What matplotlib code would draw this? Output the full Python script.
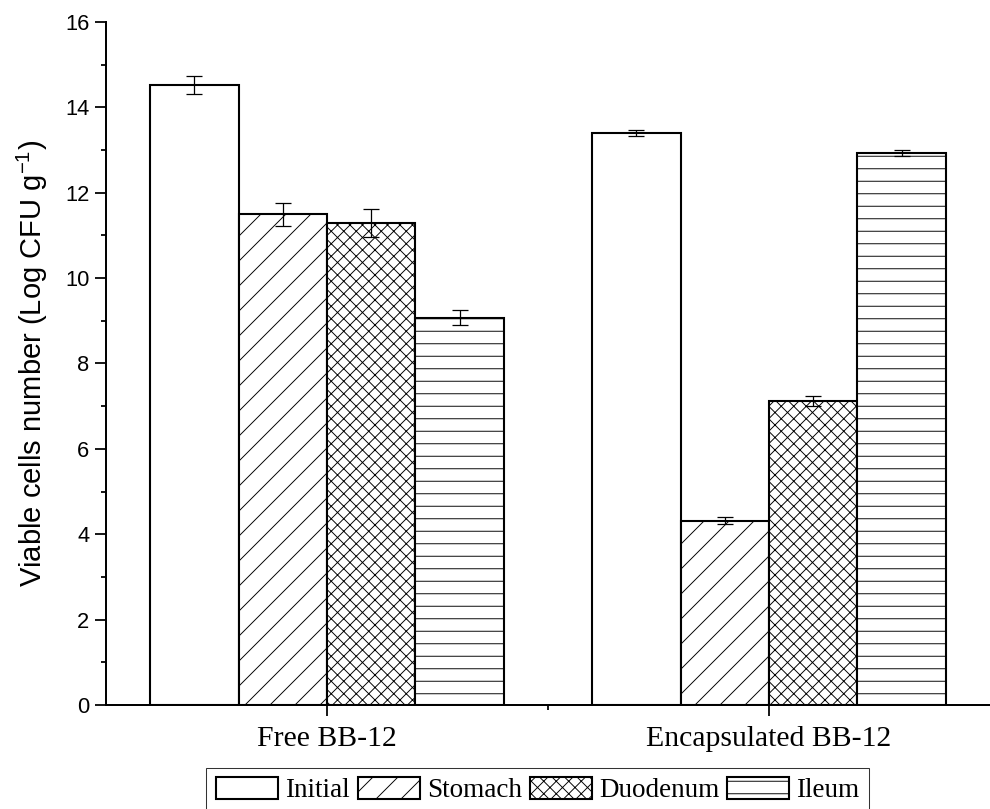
import matplotlib.pyplot as plt
import numpy as np

# data
groups = ['Free BB-12', 'Encapsulated BB-12']
stages = ['Initial', 'Stomach', 'Duodenum', 'Ileum']
initial = [14.52, 13.41]
stomach = [11.50, 4.32]
duodenum = [11.30, 7.12]
ileum = [9.07, 12.92]
initial_err = [0.21, 0.07]
stomach_err = [0.27, 0.08]
duodenum_err = [0.33, 0.12]
ileum_err = [0.18, 0.07]

values = [initial, stomach, duodenum, ileum]
errors = [initial_err, stomach_err, duodenum_err, ileum_err]
hatches = ['', '/', 'xx', '-']

plt.rcParams['hatch.color'] = 'black'
plt.rcParams['hatch.linewidth'] = 0.9
plt.rcParams['mathtext.default'] = 'regular'

fig = plt.figure(figsize=(13.2, 809 / 75), dpi=75)
ax = fig.add_axes([0.107, 0.1286, 0.893, 0.8442])

x = np.arange(len(groups))
w = 0.2
for i in range(4):
    ax.bar(x + (i - 1.5) * w, values[i], w, color='white', edgecolor='black',
           linewidth=2.0, hatch=hatches[i], label=stages[i],
           yerr=errors[i], capsize=8,
           error_kw=dict(elinewidth=1.2, capthick=1.2, ecolor='black'))

ax.set_xlim(-0.5, 1.5)
ax.set_ylim(0, 16)
ax.set_yticks(np.arange(0, 17, 2))
ax.set_yticks(np.arange(1, 16, 2), minor=True)
ax.set_xticks(x)
ax.set_xticks([0.5], minor=True)
ax.set_xticklabels(groups, fontfamily='Liberation Serif', fontsize=28.5)
ax.set_yticklabels([str(v) for v in range(0, 17, 2)], fontfamily='Liberation Sans', fontsize=21)
ax.tick_params(axis='both', which='major', direction='out', length=11, width=1.7)
ax.tick_params(axis='both', which='minor', direction='out', length=5, width=1.7)
ax.tick_params(axis='x', which='major', pad=9)
ax.tick_params(axis='y', which='major', pad=5)

for s in ['top', 'right']:
    ax.spines[s].set_visible(False)
for s in ['left', 'bottom']:
    ax.spines[s].set_linewidth(1.9)

ax.set_ylabel('Viable cells number (Log CFU g$^{-1}$)', fontfamily='Liberation Sans',
              fontsize=28, labelpad=14)

leg = fig.legend(loc='upper center', bbox_to_anchor=(0.543, 0.051), ncol=4,
                 prop={'family': 'Liberation Serif', 'size': 26},
                 frameon=True, fancybox=False, edgecolor='black',
                 handlelength=2.3, handleheight=0.85, handletextpad=0.25,
                 columnspacing=0.3, borderpad=0.35, borderaxespad=0)
leg.get_frame().set_linewidth(1.0)

fig.savefig('out.png', dpi=75)
